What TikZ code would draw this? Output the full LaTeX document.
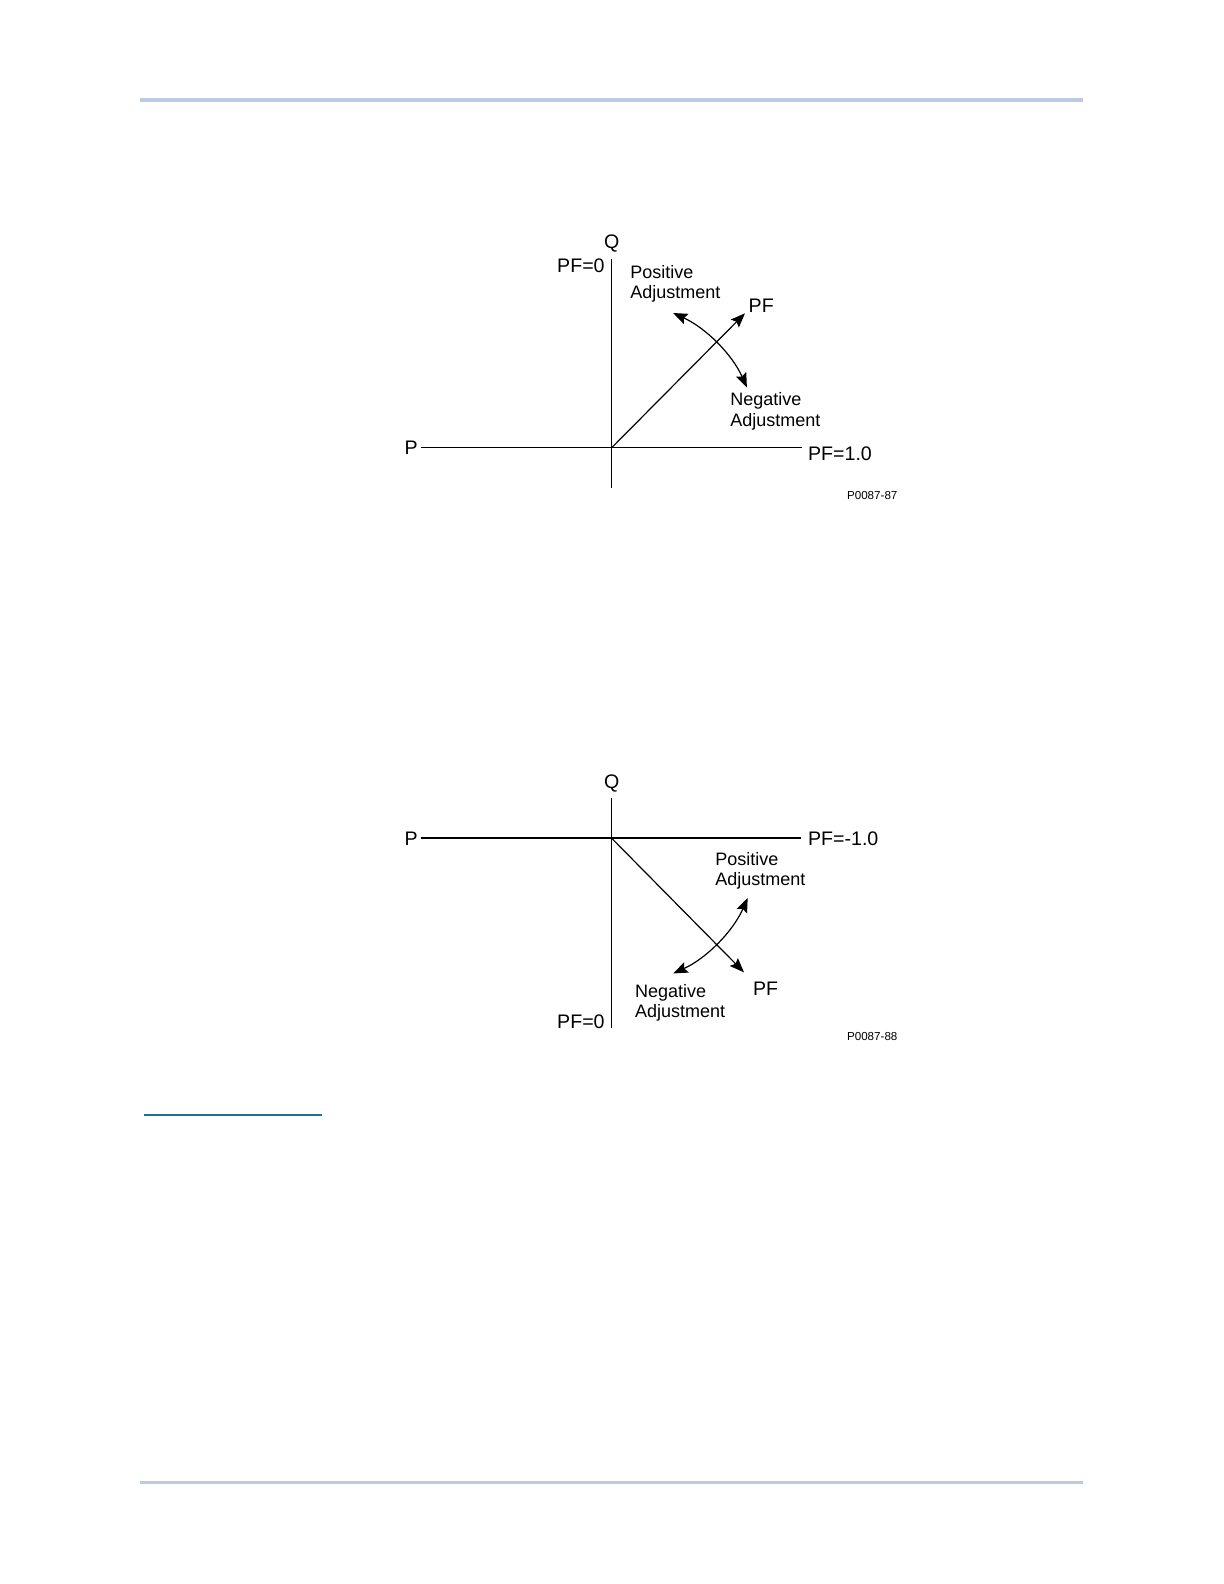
\documentclass[tikz,border=0pt]{standalone}
\usepackage{fontspec}
\setmainfont{Liberation Sans}
\usetikzlibrary{arrows.meta}
\begin{document}
\begin{tikzpicture}[x=0.5pt,y=0.5pt,
  pageline/.style={line width=1.6pt,color=rulecol},
  secline/.style={line width=1.2pt,color=seccol},
  axis/.style={line width=0.6pt},
  thickaxis/.style={line width=1.1pt},
  pfvec/.style={line width=0.6pt,-{Stealth[length=7.2pt,width=5.6pt,inset=1.2pt]}},
  adj/.style={line width=0.6pt,{Stealth[length=7.2pt,width=5.6pt,inset=1.2pt]}-{Stealth[length=7.2pt,width=5.6pt,inset=1.2pt]}},
  axlbl/.style={inner sep=0pt,font=\fontsize{9.8}{11}\selectfont},
  adjlbl/.style={inner sep=0pt,align=left,anchor=north west,font=\fontsize{9}{10.2}\selectfont},
  codelbl/.style={inner sep=0pt,anchor=base west,font=\fontsize{5.8}{6.5}\selectfont}]
\definecolor{rulecol}{HTML}{BCCBE2}
\definecolor{seccol}{HTML}{1A6FA0}
\useasboundingbox (0,0) rectangle (1224,1584);
% page rules
\coordinate (rt1) at (140,1484);
\coordinate (rt2) at (1083,1484);
\coordinate (rb1) at (140,101.5);
\coordinate (rb2) at (1083,101.5);
\coordinate (sb1) at (144,469);
\coordinate (sb2) at (322,469);
\draw[pageline] (rt1) -- (rt2);
\draw[pageline] (rb1) -- (rb2);
\draw[secline] (sb1) -- (sb2);
% ---------- top diagram ----------
\coordinate (O1) at (611.7,1136.3);
\coordinate (q1top) at (611.7,1324.7);
\coordinate (q1bot) at (611.7,1096.3);
\coordinate (p1left) at (421,1136.3);
\coordinate (p1right) at (801.7,1136.3);
\coordinate (pf1tip) at (745,1270.7);
\draw[axis] (q1top) -- (q1bot);
\draw[axis] (p1left) -- (p1right);
\draw[pfvec] (O1) -- (pf1tip);
\draw[adj] ([shift={(65.5:148)}]O1) arc[start angle=65.5,end angle=24,radius=148];
\node[axlbl,anchor=base] (Q1) at (611.7,1335) {Q};
\node[axlbl,anchor=base east] (PF01) at (605,1311.3) {PF=0};
\node[axlbl,anchor=base] (P1) at (411.2,1129.7) {P};
\node[axlbl,anchor=base west] (PF11) at (807.7,1123.3) {PF=1.0};
\node[axlbl,anchor=base west] (PFv1) at (748.3,1271.7) {PF};
\node[adjlbl] (pos1) at (630,1319) {Positive\\Adjustment};
\node[adjlbl] (neg1) at (730,1191.7) {Negative\\Adjustment};
\node[codelbl] (code1) at (846.7,1084) {P0087-87};
% ---------- bottom diagram ----------
\coordinate (O2) at (611.7,745.7);
\coordinate (q2top) at (611.7,785.7);
\coordinate (q2bot) at (611.7,555.7);
\coordinate (p2left) at (421,745.7);
\coordinate (p2right) at (801,745.7);
\coordinate (pf2tip) at (744,611.7);
\draw[axis] (q2top) -- (q2bot);
\draw[thickaxis] (p2left) -- (p2right);
\draw[pfvec] (O2) -- (pf2tip);
\draw[adj] ([shift={(-23.7:148.5)}]O2) arc[start angle=-23.7,end angle=-65.5,radius=148.5];
\node[axlbl,anchor=base] (Q2) at (611.7,795) {Q};
\node[axlbl,anchor=base] (P2) at (411.2,738.3) {P};
\node[axlbl,anchor=base west] (PFm2) at (807.7,738.3) {PF=-1.0};
\node[adjlbl] (pos2) at (715,732.3) {Positive\\Adjustment};
\node[axlbl,anchor=base west] (PFv2) at (752.7,588.3) {PF};
\node[adjlbl] (neg2) at (634.7,600.3) {Negative\\Adjustment};
\node[axlbl,anchor=base east] (PF02) at (605,555.7) {PF=0};
\node[codelbl] (code2) at (846.7,543) {P0087-88};
\end{tikzpicture}
\end{document}
